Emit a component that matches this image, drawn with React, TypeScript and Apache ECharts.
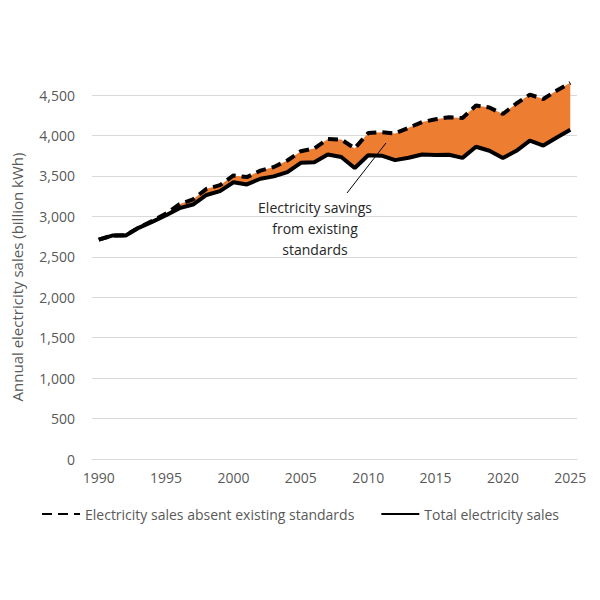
import React, { useEffect, useRef } from "react";
import * as echarts from "echarts";

const years: string[] = [];
for (let y = 1990; y <= 2025; y++) years.push(String(y));

const totalSales = [2713, 2762, 2763, 2861, 2935, 3013, 3101, 3146, 3264, 3312, 3421, 3394, 3465, 3494, 3547, 3661, 3670, 3765, 3734, 3597, 3755, 3750, 3695, 3725, 3765, 3759, 3762, 3723, 3860, 3811, 3720, 3810, 3935, 3875, 3975, 4070];
const absentStandards = [2713, 2762, 2765, 2865, 2945, 3035, 3150, 3210, 3340, 3385, 3505, 3485, 3565, 3610, 3690, 3805, 3840, 3955, 3950, 3840, 4030, 4040, 4025, 4095, 4165, 4200, 4225, 4215, 4370, 4345, 4265, 4395, 4505, 4450, 4555, 4650];

const FONT = "'Open Sans', sans-serif";

export default function App() {
  const ref = useRef<HTMLDivElement>(null);
  useEffect(() => {
    if (!ref.current) return;
    const chart = echarts.init(ref.current, undefined, { renderer: "svg" });
    const savings = absentStandards.map((v, i) => v - totalSales[i]);
    chart.setOption({
      animation: false,
      backgroundColor: "#ffffff",
      textStyle: { fontFamily: FONT },
      grid: { left: 92, right: 23, top: 95, bottom: 141 },
      legend: {
        data: ["Electricity sales absent existing standards", "Total electricity sales"],
        left: "center",
        top: 502,
        itemWidth: 38,
        itemHeight: 14,
        itemGap: 26,
        itemStyle: { opacity: 0 },
        textStyle: { color: "#595959", fontSize: 14, fontFamily: FONT },
      },
      xAxis: {
        type: "category",
        data: years,
        boundaryGap: true,
        axisLine: { lineStyle: { color: "#d9d9d9", width: 1 } },
        axisTick: { interval: 4, length: 5, lineStyle: { color: "#d9d9d9" } },
        axisLabel: { interval: 4, color: "#595959", fontSize: 14, margin: 11, fontFamily: FONT },
        splitLine: { show: false },
      },
      yAxis: {
        type: "value",
        min: 0,
        max: 4500,
        interval: 500,
        name: "Annual electricity sales (billion kWh)",
        nameLocation: "middle",
        nameGap: 68,
        nameTextStyle: { color: "#595959", fontSize: 15, fontFamily: FONT },
        axisLine: { show: false },
        axisTick: { show: false },
        axisLabel: {
          color: "#595959",
          fontSize: 14,
          margin: 17,
          fontFamily: FONT,
          formatter: (v: number) => v.toLocaleString("en-US"),
        },
        splitLine: { lineStyle: { color: "#d9d9d9", width: 1 } },
      },
      series: [
        {
          name: "base",
          type: "line",
          stack: "band",
          data: totalSales,
          symbol: "none",
          lineStyle: { opacity: 0 },
          areaStyle: { opacity: 0 },
          silent: true,
          clip: false,
          z: 1,
        },
        {
          name: "Electricity savings",
          type: "line",
          stack: "band",
          data: savings,
          symbol: "none",
          lineStyle: { opacity: 0 },
          areaStyle: { color: "#ED7D31", opacity: 1 },
          silent: true,
          clip: false,
          z: 2,
        },
        {
          name: "Electricity sales absent existing standards",
          type: "line",
          data: absentStandards,
          symbol: "none",
          clip: false,
          itemStyle: { color: "#000000" },
          lineStyle: { color: "#000000", width: 4, type: [10, 6] },
          z: 3,
        },
        {
          name: "Total electricity sales",
          type: "line",
          data: totalSales,
          symbol: "none",
          clip: false,
          itemStyle: { color: "#000000" },
          lineStyle: { color: "#000000", width: 4 },
          z: 4,
        },
      ],
      graphic: [
        {
          type: "line",
          shape: { x1: 347, y1: 193, x2: 386, y2: 143 },
          style: { stroke: "#000000", lineWidth: 1 },
          z: 10,
        },
        {
          type: "text",
          x: 315,
          y: 197,
          style: {
            text: "Electricity savings\nfrom existing\nstandards",
            align: "center",
            verticalAlign: "top",
            fontSize: 14,
            lineHeight: 21,
            fill: "#262626",
            fontFamily: FONT,
          },
          z: 10,
        },
      ],
    });
    return () => chart.dispose();
  }, []);
  return (
    <div
      ref={ref}
      style={{ position: "fixed", left: 0, top: 0, width: 600, height: 600 }}
    />
  );
}
